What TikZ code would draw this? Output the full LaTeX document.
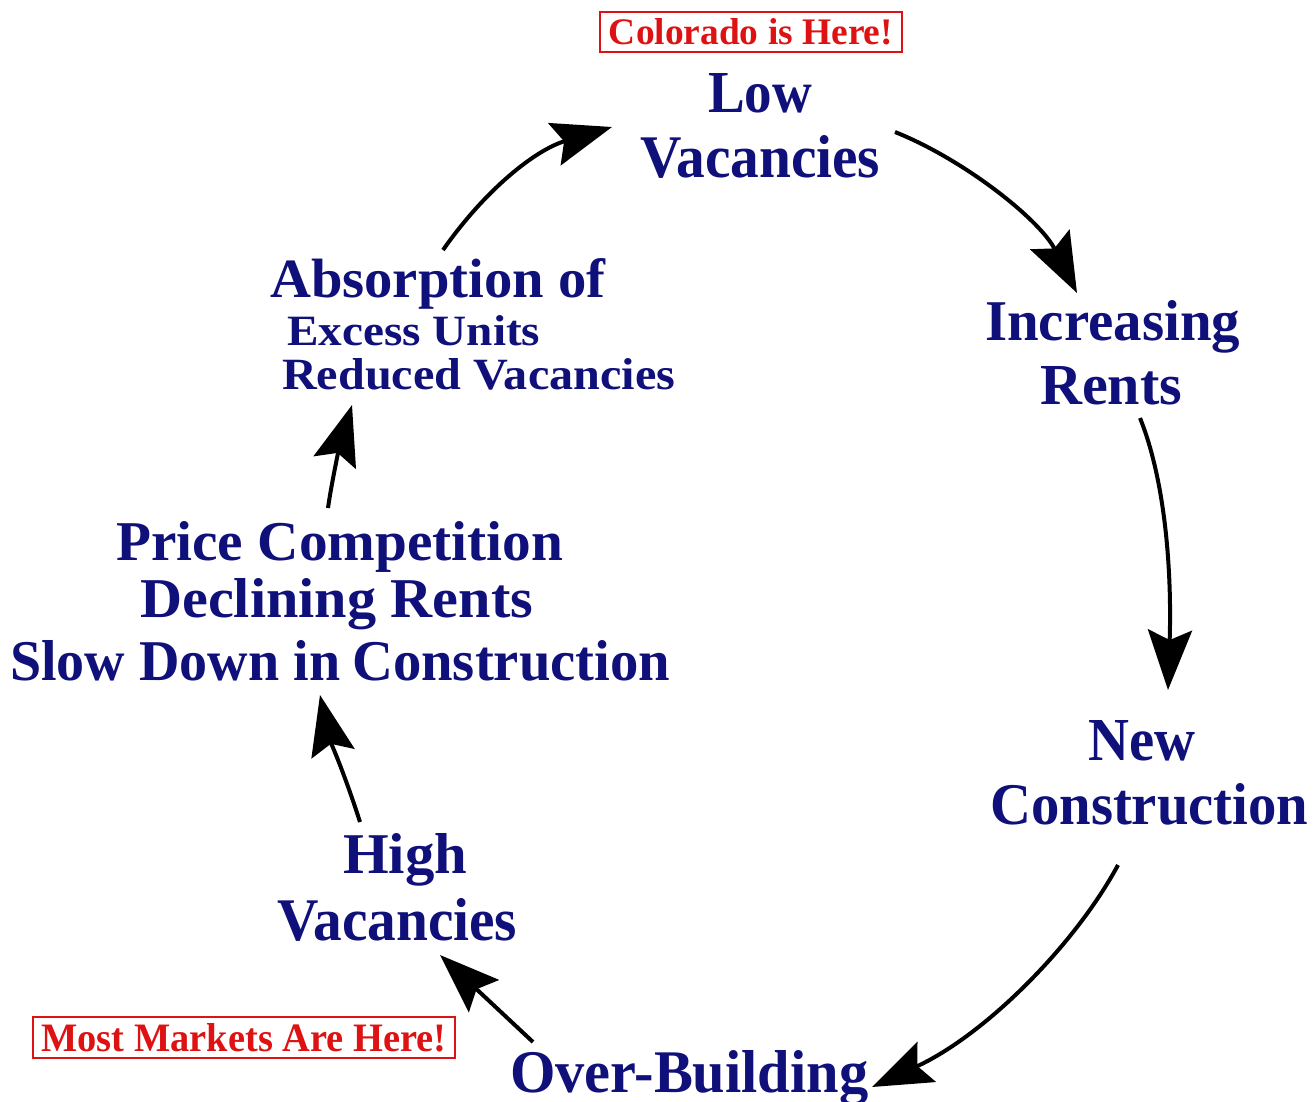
\documentclass[tikz,border=0pt]{standalone}
\usepackage{fontspec}
\setmainfont{Liberation Serif}
\usetikzlibrary{arrows.meta}
\definecolor{navytxt}{RGB}{16,16,122}
\definecolor{redtxt}{RGB}{222,18,18}
\newcommand\fitbox[3]{\resizebox{#1pt}{#2pt}{\bfseries #3}}
\begin{document}
\begin{tikzpicture}[x=1pt,y=-1pt,
  lbl/.style={anchor=base west, inner sep=0pt, text=navytxt},
  redbox/.style={draw=redtxt, line width=1.6pt, inner sep=0pt, text=redtxt},
  arr/.style={line width=4pt, black, -{Stealth[length=60pt,width=44pt,inset=10pt]}}]
\fill[white] (0,0) rectangle (1315,1101);
\useasboundingbox (0,0) rectangle (1315,1101);

% red notes
\node[redbox, minimum width=302pt, minimum height=40pt] (colo) at (751,32) {\fitbox{284}{26}{Colorado is Here!}};
\node[redbox, minimum width=422pt, minimum height=41pt] (most) at (244,1037.5) {\fitbox{405}{28}{Most Markets Are Here!}};

% labels
\node[lbl] (low1) at (708,112) {\fitbox{104}{39}{Low}};
\node[lbl] (low2) at (640,177) {\fitbox{240}{42}{Vacancies}};
\node[lbl] (inc1) at (985,340) {\fitbox{255}{40}{Increasing}};
\node[lbl] (inc2) at (1040,404) {\fitbox{142}{38}{Rents}};
\node[lbl] (new1) at (1088,760) {\fitbox{107}{40}{New}};
\node[lbl] (new2) at (990,824) {\fitbox{318}{41}{Construction}};
\node[lbl] (over) at (510,1092) {\fitbox{358}{42}{Over-Building}};
\node[lbl] (high1) at (343,873) {\fitbox{124}{40}{High}};
\node[lbl] (high2) at (277,940) {\fitbox{240}{42}{Vacancies}};
\node[lbl] (pc1) at (116,560) {\fitbox{447}{39}{Price Competition}};
\node[lbl] (pc2) at (140,617) {\fitbox{393}{39}{Declining Rents}};
\node[lbl] (pc3) at (10,680) {\fitbox{330}{40}{Slow Down in}};
\node[lbl] (pc4) at (352,680) {\fitbox{318}{40}{Construction}};
\node[lbl] (abs1) at (270,297) {\fitbox{335}{39}{Absorption of}};
\node[lbl] (abs2) at (287,345) {\fitbox{253}{30}{Excess Units}};
\node[lbl] (abs3) at (282,389) {\fitbox{393}{31}{Reduced Vacancies}};

% arrow end points
\coordinate (a1s) at (443,250);  \coordinate (a1e) at (612,127);
\coordinate (a2s) at (895,132);  \coordinate (a2e) at (1077,293);
\coordinate (a3s) at (1140,418); \coordinate (a3e) at (1168,690);
\coordinate (a4s) at (1118,865); \coordinate (a4e) at (872,1087);
\coordinate (a5s) at (533,1042); \coordinate (a5e) at (440,955);
\coordinate (a6s) at (360,822);  \coordinate (a6e) at (320,695);
\coordinate (a7s) at (328,508);  \coordinate (a7e) at (352,405);

\draw[arr] (a1s) .. controls (485,190) and (535,150) .. (a1e);
\draw[arr] (a2s) .. controls (965,160) and (1040,220) .. (a2e);
\draw[arr] (a3s) .. controls (1165,480) and (1172,570) .. (a3e);
\draw[arr] (a4s) .. controls (1075,945) and (985,1035) .. (a4e);
\draw[arr] (a5s) -- (a5e);
\draw[arr] (a6s) .. controls (345,775) and (330,740) .. (a6e);
\draw[arr] (a7s) .. controls (332,480) and (340,445) .. (a7e);
\end{tikzpicture}
\end{document}
